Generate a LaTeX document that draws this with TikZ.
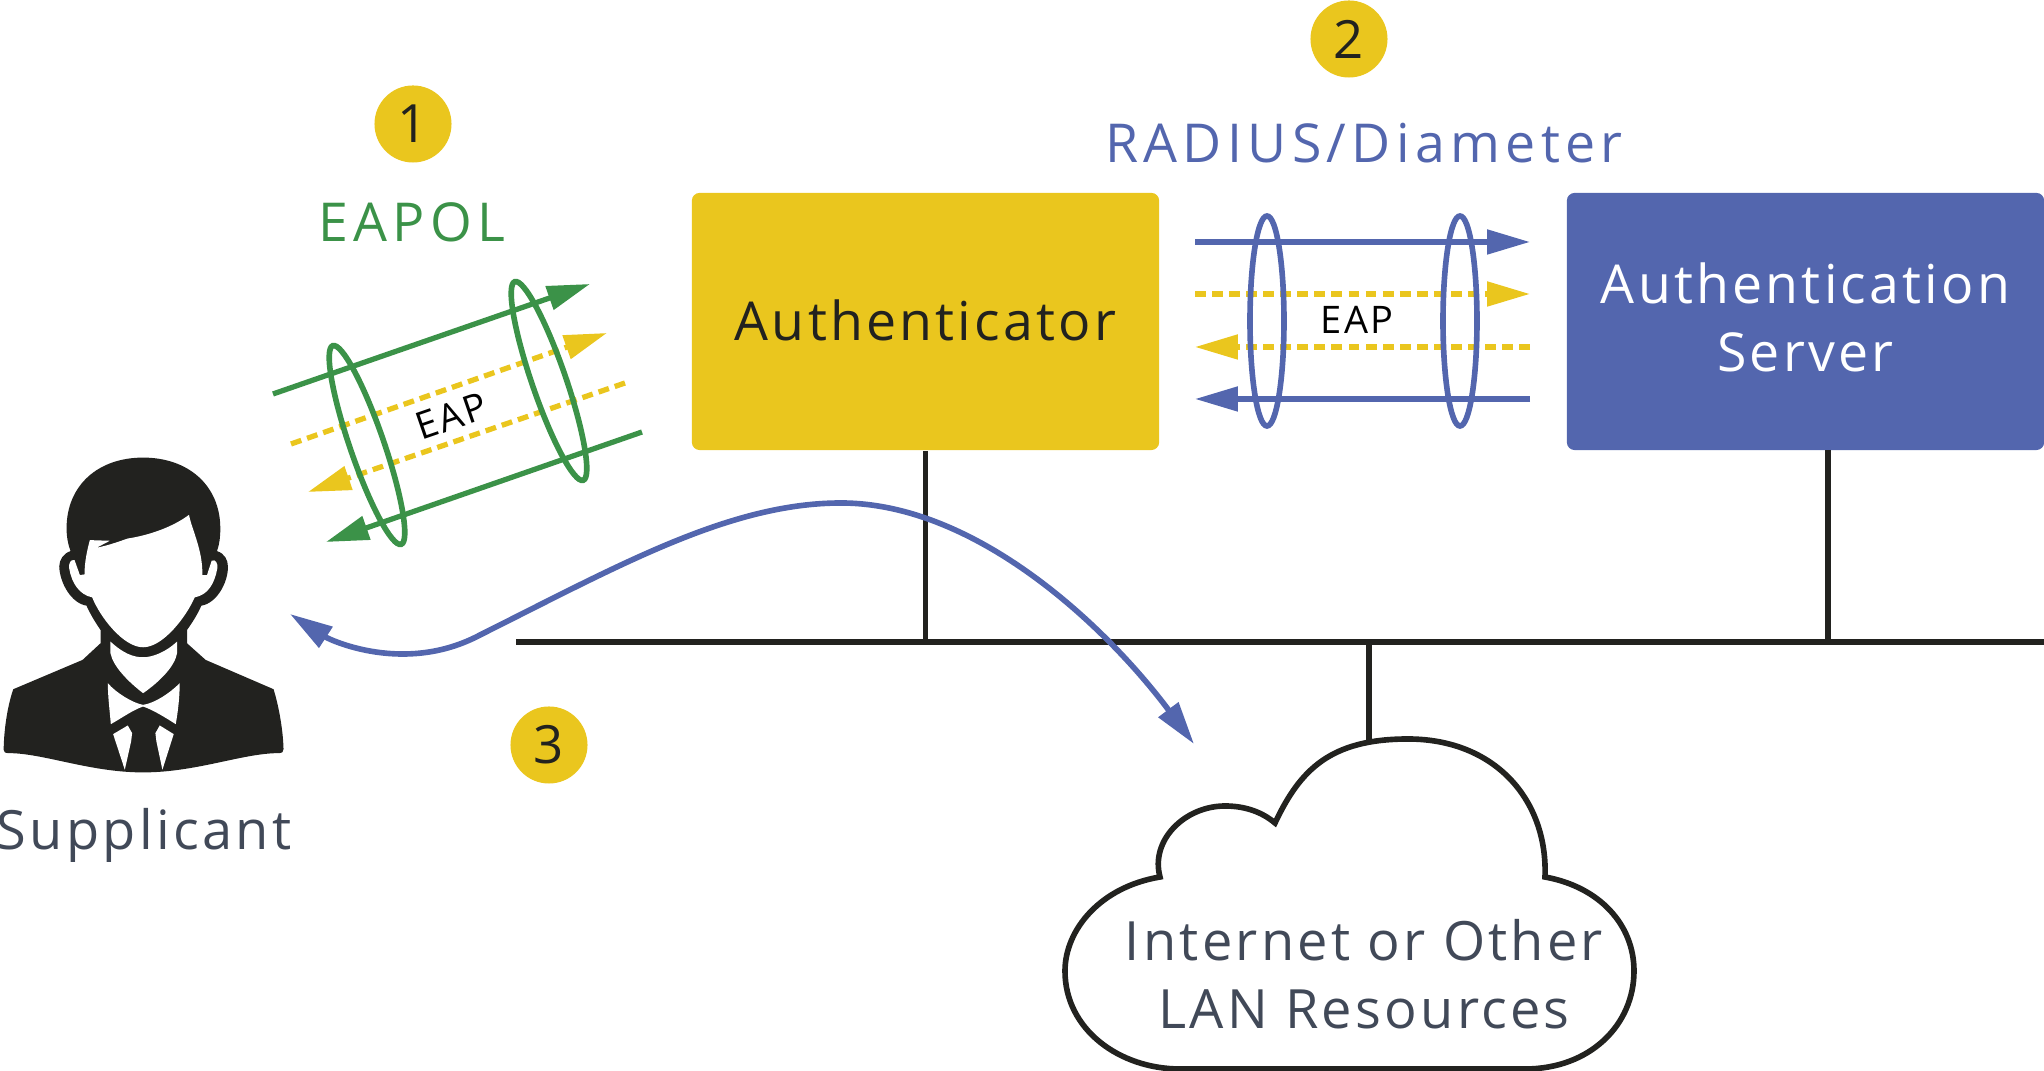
\documentclass[tikz,border=0pt]{standalone}
\usepackage{fontspec}
\setmainfont[LetterSpace=6]{Open Sans}
\newfontfamily\wideface[LetterSpace=10]{Open Sans}
\usetikzlibrary{arrows.meta}
\definecolor{yel}{HTML}{EAC61E}
\definecolor{blu}{HTML}{5366AE}
\definecolor{grn}{HTML}{3B9248}
\definecolor{ink}{HTML}{22221F}
\definecolor{gry}{HTML}{414958}
\tikzset{
  x=0.01cm,y=-0.01cm,
  bigtip/.style={-{Triangle[length=12.2pt,width=6.8pt]}},
  wire/.style={line width=1.6pt,draw=ink},
  solidline/.style={line width=1.5pt},
  ringline/.style={line width=1.6pt},
  dashline/.style={line width=1.5pt,dash pattern=on 3.1pt off 1.75pt},
  box/.style={rounded corners=2.2pt,minimum width=4.67cm,minimum height=2.57cm,inner sep=0pt,align=center,font=\fontsize{15.25}{19.3}\selectfont},
  badge/.style={circle,fill=yel,minimum size=0.77cm,inner sep=0pt,text=ink,font=\fontsize{15}{18}\selectfont},
  biglabel/.style={font=\fontsize{15.4}{19.3}\selectfont,inner sep=0pt,align=center},
  widelabel/.style={font=\wideface\fontsize{15.25}{19.3}\selectfont,inner sep=0pt,align=center},
  eaplabel/.style={font=\fontsize{10.8}{12}\selectfont,inner sep=0pt,text=black},
}
\begin{document}
\begin{tikzpicture}
\useasboundingbox (0,0) rectangle (2044,1071);

% boxes
\node[box,fill=yel,text=ink] (auth) at (925.5,321.5) {Authenticator\rule[-0.7pt]{0pt}{0.7pt}};
\node[box,fill=blu,text=white,minimum width=4.77cm] (server) at (1805.5,321.5) {Authentication\\Server\rule[-2.3pt]{0pt}{2.3pt}};

% bus
\coordinate (busL) at (516,642);
\coordinate (busR) at (2044,642);
\coordinate (srvdrop) at (1828,450);
\coordinate (cloudtop) at (1369,741);
\draw[wire] (busL) -- (busR);
\draw[wire] (auth.south) -- (auth.south |- busL);
\draw[wire] (srvdrop) -- (srvdrop |- busL);
\draw[wire] (cloudtop |- busL) -- (cloudtop);

% badges
\node[badge] (b1) at (413,124) {1};
\node[badge] (b2) at (1349,39) {2};
\node[badge] (b3) at (549,745) {3};

% labels
\node[widelabel,text=grn] (eapol) at (412,222) {EAPOL};
\node[widelabel,text=blu] (radius) at (1364,143) {RADIUS/Diameter};
\node[biglabel,text=gry] (supp) at (144,835) {Supplicant};

% cloud
\draw[wire,fill=white] (1160,877) .. controls (1100,887) and (1065,930) .. (1065,971)
  .. controls (1065,1030) and (1120,1069) .. (1180,1069) -- (1525,1069)
  .. controls (1590,1069) and (1634,1025) .. (1634,971)
  .. controls (1634,925) and (1600,887) .. (1545,877)
  .. controls (1548,800) and (1495,739) .. (1408,739)
  .. controls (1330,739) and (1300,770) .. (1275,823)
  .. controls (1262,812) and (1245,806) .. (1225,806)
  .. controls (1185,806) and (1150,840) .. (1160,877) -- cycle;
\node[biglabel,text=gry] (cloudtext) at (1364,974) {Internet or Other\\LAN Resources};

% RADIUS tunnel
\coordinate (ra1) at (1195,242); \coordinate (ra2) at (1530,242);
\coordinate (rb1) at (1195,294); \coordinate (rb2) at (1530,294);
\coordinate (rc1) at (1530,347); \coordinate (rc2) at (1195,347);
\coordinate (rd1) at (1530,399); \coordinate (rd2) at (1195,399);
\draw[solidline,blu,bigtip] (ra1) -- (ra2);
\draw[dashline,yel,bigtip] (rb1) -- (rb2);
\draw[dashline,yel,bigtip] (rc1) -- (rc2);
\draw[solidline,blu,bigtip] (rd1) -- (rd2);
\draw[ringline,blu] (1267,321) ellipse [x radius=17,y radius=105];
\draw[ringline,blu] (1460,321) ellipse [x radius=17,y radius=105];
\node[eaplabel] (eap2) at (1357,320) {EAP};

% EAPOL tunnel
\coordinate (ga1) at (273,394); \coordinate (ga2) at (590,284);
\coordinate (gb1) at (291,444); \coordinate (gb2) at (607,333);
\coordinate (gc1) at (625,383); \coordinate (gc2) at (308,492);
\coordinate (gd1) at (642,432); \coordinate (gd2) at (326,542);
\draw[solidline,grn,bigtip] (ga1) -- (ga2);
\draw[dashline,yel,bigtip] (gb1) -- (gb2);
\draw[dashline,yel,bigtip] (gc1) -- (gc2);
\draw[solidline,grn,bigtip] (gd1) -- (gd2);
\draw[ringline,grn,rotate around={19:(367,445)}] (367,445) ellipse [x radius=17,y radius=105];
\draw[ringline,grn,rotate around={19:(549,381)}] (549,381) ellipse [x radius=17,y radius=105];
\node[eaplabel,rotate=19] (eap1) at (451,416) {EAP};

% roaming arrow
\coordinate (arrA) at (290,614);
\coordinate (arrB) at (1194,744);
\draw[ringline,blu,{Triangle[length=12.2pt,width=6.8pt]}-{Triangle[length=12.2pt,width=6.8pt]}]
  (arrA) .. controls (330,640) and (405,675) .. (480,635)
  .. controls (620,565) and (730,503) .. (841,503)
  .. controls (975,503) and (1105,625) .. (arrB);

% person
\begin{scope}[x=0.0033333cm,y=-0.0033333cm,shift={(0,1323)}]
\fill[ink] (430,52) .. controls (295,52) and (200,135) .. (200,265)
 .. controls (200,290) and (205,315) .. (212,333)
 .. controls (190,340) and (178,360) .. (178,380)
 .. controls (180,430) and (215,490) .. (260,497)
 .. controls (270,520) and (285,545) .. (302,570)
 -- (302,610) -- (248,660) -- (40,748)
 .. controls (25,790) and (12,860) .. (11,930)
 .. controls (11,936) and (15,940) .. (25,940)
 .. controls (130,940) and (270,998) .. (430,998)
 .. controls (590,998) and (730,940) .. (838,940)
 .. controls (848,940) and (852,936) .. (852,928)
 .. controls (850,860) and (835,790) .. (822,748)
 -- (618,660) -- (562,610) -- (562,570)
 .. controls (580,545) and (595,520) .. (605,497)
 .. controls (650,490) and (685,430) .. (685,380)
 .. controls (685,360) and (675,340) .. (652,333)
 .. controls (660,310) and (662,290) .. (662,265)
 .. controls (662,135) and (565,52) .. (430,52) -- cycle;
\fill[white] (270,300) -- (330,302) -- (290,323)
 .. controls (330,315) and (360,303) .. (385,295)
 .. controls (450,285) and (520,260) .. (568,224)
 .. controls (575,265) and (610,330) .. (608,405)
 -- (622,405) -- (636,362)
 .. controls (648,356) and (655,370) .. (653,385)
 .. controls (645,430) and (625,465) .. (585,472)
 .. controls (560,530) and (490,622) .. (430,622)
 .. controls (370,622) and (300,530) .. (277,472)
 .. controls (240,465) and (215,430) .. (208,385)
 .. controls (206,368) and (212,358) .. (224,360)
 -- (240,405) -- (254,403)
 .. controls (254,365) and (262,330) .. (270,300) -- cycle;
\fill[white] (332,605) .. controls (370,640) and (400,652) .. (430,652)
 .. controls (460,652) and (500,635) .. (532,605) -- (532,640)
 .. controls (525,680) and (480,725) .. (430,760)
 .. controls (385,725) and (340,680) .. (332,640) -- cycle;
\fill[white] (324,730) .. controls (350,760) and (400,790) .. (430,795)
 .. controls (465,790) and (510,760) .. (540,730)
 .. controls (540,770) and (535,815) .. (528,853)
 .. controls (500,835) and (460,810) .. (430,800)
 .. controls (400,810) and (365,835) .. (333,853)
 .. controls (330,815) and (324,770) .. (324,730) -- cycle;
\fill[white] (340,883) -- (384,857) -- (397,880) .. controls (397,890) and (396,895) .. (394,905) -- (375,990) -- cycle;
\fill[white] (522,883) -- (480,857) -- (467,880) .. controls (467,890) and (468,895) .. (470,905) -- (488,990) -- cycle;
\end{scope}
\end{tikzpicture}
\end{document}
